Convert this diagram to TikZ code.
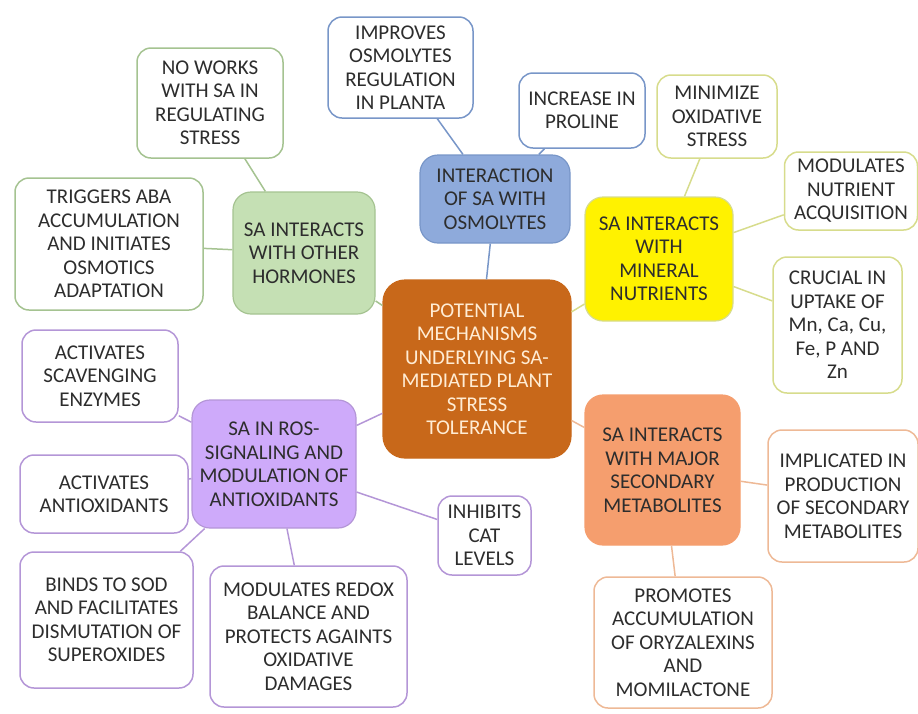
\documentclass[tikz,border=0pt]{standalone}
\usepackage{fontspec}
\setmainfont{Carlito}
\usepackage{tikz}
\definecolor{coreorange}{RGB}{200,104,26}
\definecolor{osmoblue}{RGB}{142,170,219}
\definecolor{osmoline}{RGB}{120,150,200}
\definecolor{minyellow}{RGB}{255,242,0}
\definecolor{minline}{RGB}{215,220,140}
\definecolor{hormgreen}{RGB}{197,224,180}
\definecolor{hormline}{RGB}{165,195,145}
\definecolor{rospurple}{RGB}{206,170,250}
\definecolor{rosline}{RGB}{180,150,215}
\definecolor{secorange}{RGB}{245,158,110}
\definecolor{secline}{RGB}{238,185,150}
\definecolor{txtgray}{RGB}{45,45,45}
\tikzset{
	hub/.style 2 args={rectangle,rounded corners=18pt,fill=#1,draw=#2,line width=1.2pt,align=center,inner sep=2pt,text=txtgray},
	leaf/.style={rectangle,rounded corners=14pt,fill=white,draw=#1,line width=1.5pt,align=center,inner sep=2pt,text=txtgray},
	twig/.style={draw=#1,line width=1.5pt}
}

\begin{document}
\begin{tikzpicture}[x=1pt,y=-1pt,font=\fontsize{21}{23.5}\selectfont]
							\useasboundingbox (0,0) rectangle (918,713);
							\node [hub={coreorange}{coreorange},text={rgb,255:red,255;green,236;blue,212},minimum width=188pt,minimum height=178pt,rounded corners=22pt] (core) at (477,369) {POTENTIAL\\MECHANISMS\\UNDERLYING SA-\\MEDIATED PLANT\\STRESS\\TOLERANCE};

							\node [hub={osmoblue}{osmoline},minimum width=150pt,minimum height=88pt] (osmo) at (495,199) {INTERACTION\\OF SA WITH\\OSMOLYTES};
							\node [leaf=osmoline,minimum width=145pt,minimum height=101pt] (improves) at (400.5,67.5) {IMPROVES\\OSMOLYTES\\REGULATION\\IN PLANTA};
							\node [leaf=osmoline,minimum width=126pt,minimum height=75pt] (proline) at (582,110.5) {INCREASE IN\\PROLINE};

							\node [hub={minyellow}{minline},minimum width=148pt,minimum height=124pt] (mineral) at (659,259) {SA INTERACTS\\WITH\\MINERAL\\NUTRIENTS};
							\node [leaf=minline,minimum width=120pt,minimum height=83pt] (minimize) at (717,116.5) {MINIMIZE\\OXIDATIVE\\STRESS};
							\node [leaf=minline,minimum width=133pt,minimum height=78pt] (acquis) at (851,191) {MODULATES\\NUTRIENT\\ACQUISITION};
							\node [leaf=minline,minimum width=129pt,minimum height=136pt] (uptake) at (837.5,325) {CRUCIAL IN\\UPTAKE OF\\Mn, Ca, Cu,\\Fe, P AND\\Zn};

							\node [hub={hormgreen}{hormline},minimum width=142pt,minimum height=122pt] (hormone) at (304,253) {SA INTERACTS\\WITH OTHER\\HORMONES};
							\node [leaf=hormline,minimum width=146pt,minimum height=110pt] (noworks) at (210,103) {NO WORKS\\WITH SA IN\\REGULATING\\STRESS};
							\node [leaf=hormline,minimum width=188pt,minimum height=132pt] (aba) at (109,244) {TRIGGERS ABA\\ACCUMULATION\\AND INITIATES\\OSMOTICS\\ADAPTATION};

							\node [hub={rospurple}{rosline},minimum width=164pt,minimum height=128pt] (ros) at (274,464) {SA IN ROS-\\SIGNALING AND\\MODULATION OF\\ANTIOXIDANTS};
							\node [leaf=rosline,minimum width=156pt,minimum height=92pt] (scav) at (100,376) {ACTIVATES\\SCAVENGING\\ENZYMES};
							\node [leaf=rosline,minimum width=168pt,minimum height=78pt] (anti) at (104,494) {ACTIVATES\\ANTIOXIDANTS};
							\node [leaf=rosline,minimum width=173pt,minimum height=136pt] (sod) at (106.5,620) {BINDS TO SOD\\AND FACILITATES\\DISMUTATION OF\\SUPEROXIDES};
							\node [leaf=rosline,minimum width=197pt,minimum height=141pt] (redox) at (308.5,636.5) {MODULATES REDOX\\BALANCE AND\\PROTECTS AGAINTS\\OXIDATIVE\\DAMAGES};
							\node [leaf=rosline,minimum width=93pt,minimum height=79pt] (cat) at (484.5,535.5) {INHIBITS\\CAT\\LEVELS};

							\node [hub={secorange}{secorange},minimum width=155pt,minimum height=150pt] (second) at (662.5,470) {SA INTERACTS\\WITH MAJOR\\SECONDARY\\METABOLITES};
							\node [leaf=secline,minimum width=150pt,minimum height=132pt] (product) at (843,496) {IMPLICATED IN\\PRODUCTION\\OF SECONDARY\\METABOLITES};
							\node [leaf=secline,minimum width=178pt,minimum height=131pt] (oryza) at (683,642.5) {PROMOTES\\ACCUMULATION\\OF ORYZALEXINS\\AND\\MOMILACTONE};

							\draw [twig=osmoline] (core) -- (osmo);
							\draw [twig=osmoline] (osmo) -- (improves);
							\draw [twig=osmoline] (osmo) -- (proline);
							\draw [twig=minline] (core) -- (mineral);
							\draw [twig=minline] (mineral) -- (minimize);
							\draw [twig=minline] (mineral) -- (acquis);
							\draw [twig=minline] (mineral) -- (uptake);
							\draw [twig=hormline] (core) -- (hormone);
							\draw [twig=hormline] (hormone) -- (noworks);
							\draw [twig=hormline] (hormone) -- (aba);
							\draw [twig=rosline] (core) -- (ros);
							\draw [twig=rosline] (ros) -- (scav);
							\draw [twig=rosline] (ros) -- (anti);
							\draw [twig=rosline] (ros) -- (sod);
							\draw [twig=rosline] (ros) -- (redox);
							\draw [twig=rosline] (ros) -- (cat);
							\draw [twig=secline] (core) -- (second);
							\draw [twig=secline] (second) -- (product);
							\draw [twig=secline] (second) -- (oryza);
						\end{tikzpicture}
\end{document}
